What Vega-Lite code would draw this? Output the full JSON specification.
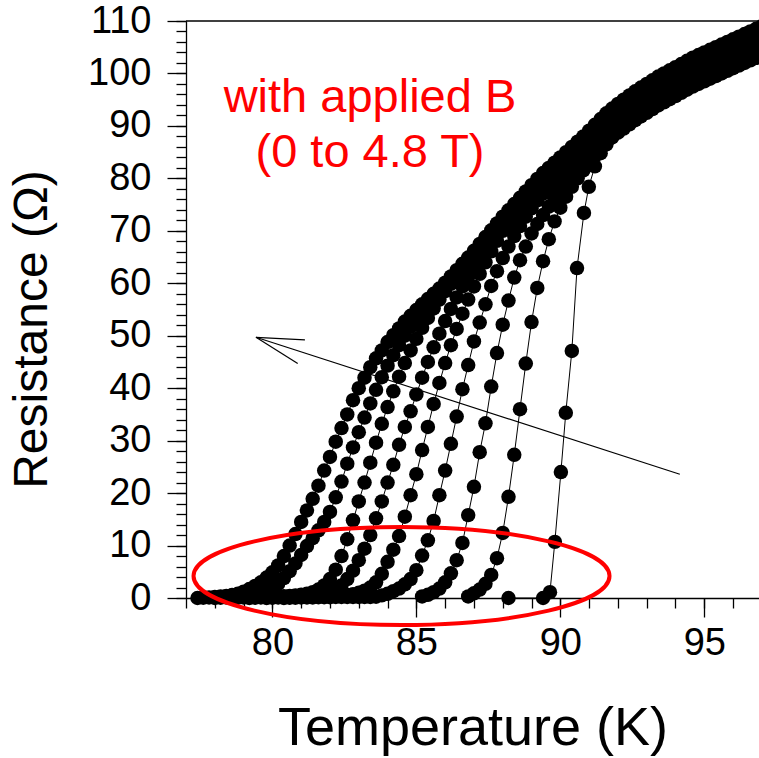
{
"$schema": "https://vega.github.io/schema/vega-lite/v6.json",
"width": 573, "height": 577,
"autosize": {"type": "none"},
"padding": {"left": 186, "top": 21, "right": 0, "bottom": 160},
"background": "white",
"config": {"view": {"stroke": null}, "font": "Liberation Sans"},
"datasets": {
"arrow": [{"x1":94.15,"y1":23.6,"x2":79.43,"y2":49.7},{"x1":79.43,"y1":49.7,"x2":81.13,"y2":49.2},{"x1":79.43,"y1":49.7,"x2":80.88,"y2":44.7}],
"curves": [
{"B":"4.8 T","T":77.4,"R":0},{"B":"4.8 T","T":77.6,"R":0.05},{"B":"4.8 T","T":77.8,"R":0.1},{"B":"4.8 T","T":78,"R":0.2},{"B":"4.8 T","T":78.2,"R":0.3},{"B":"4.8 T","T":78.4,"R":0.4},{"B":"4.8 T","T":78.6,"R":0.55},{"B":"4.8 T","T":78.8,"R":0.8},{"B":"4.8 T","T":79,"R":1.2},{"B":"4.8 T","T":79.2,"R":1.7},{"B":"4.8 T","T":79.4,"R":2.3},{"B":"4.8 T","T":79.6,"R":3},{"B":"4.8 T","T":79.8,"R":3.9},{"B":"4.8 T","T":80,"R":4.9},{"B":"4.8 T","T":80.2,"R":6.2},{"B":"4.8 T","T":80.4,"R":8},{"B":"4.8 T","T":80.6,"R":10},{"B":"4.8 T","T":80.8,"R":12.2},{"B":"4.8 T","T":81,"R":14.5},{"B":"4.8 T","T":81.2,"R":16.7},{"B":"4.8 T","T":81.4,"R":18.9},{"B":"4.8 T","T":81.6,"R":21.4},{"B":"4.8 T","T":81.8,"R":24.3},{"B":"4.8 T","T":82,"R":26.9},{"B":"4.8 T","T":82.2,"R":29.8},{"B":"4.8 T","T":82.4,"R":32.4},{"B":"4.8 T","T":82.6,"R":35},{"B":"4.8 T","T":82.8,"R":37.7},{"B":"4.8 T","T":83,"R":40},{"B":"4.8 T","T":83.2,"R":42},{"B":"4.8 T","T":83.4,"R":44},{"B":"4.8 T","T":83.6,"R":45.7},{"B":"4.8 T","T":83.8,"R":47.2},{"B":"4.8 T","T":84,"R":48.8},{"B":"4.8 T","T":84.2,"R":50.1},{"B":"4.8 T","T":84.4,"R":51.4},{"B":"4.8 T","T":84.6,"R":52.7},{"B":"4.8 T","T":84.8,"R":53.8},{"B":"4.8 T","T":85,"R":54.9},{"B":"4.8 T","T":85.2,"R":56},{"B":"4.8 T","T":85.4,"R":57},{"B":"4.8 T","T":85.6,"R":58},{"B":"4.8 T","T":85.8,"R":59},{"B":"4.8 T","T":86,"R":60.1},{"B":"4.8 T","T":86.2,"R":61.3},{"B":"4.8 T","T":86.4,"R":62.5},{"B":"4.8 T","T":86.6,"R":63.7},{"B":"4.8 T","T":86.8,"R":64.9},{"B":"4.8 T","T":87,"R":66.2},{"B":"4.8 T","T":87.2,"R":67.5},{"B":"4.8 T","T":87.4,"R":68.8},{"B":"4.8 T","T":87.6,"R":70.1},{"B":"4.8 T","T":87.8,"R":71.4},{"B":"4.8 T","T":88,"R":72.7},{"B":"4.8 T","T":88.2,"R":73.9},{"B":"4.8 T","T":88.4,"R":75.1},{"B":"4.8 T","T":88.6,"R":76.3},{"B":"4.8 T","T":88.8,"R":77.5},{"B":"4.8 T","T":89,"R":78.7},{"B":"4.8 T","T":89.2,"R":79.9},{"B":"4.8 T","T":89.4,"R":81},{"B":"4.8 T","T":89.6,"R":82},{"B":"4.8 T","T":89.8,"R":83},{"B":"4.8 T","T":90,"R":84},{"B":"4.8 T","T":90.2,"R":85},{"B":"4.8 T","T":90.4,"R":86},{"B":"4.8 T","T":90.6,"R":87},{"B":"4.8 T","T":90.8,"R":88},{"B":"4.8 T","T":91,"R":89.1},{"B":"4.8 T","T":91.2,"R":90.2},{"B":"4.8 T","T":91.4,"R":91.3},{"B":"4.8 T","T":91.6,"R":92.4},{"B":"4.8 T","T":91.8,"R":93.3},{"B":"4.8 T","T":92,"R":94.2},{"B":"4.8 T","T":92.2,"R":95},{"B":"4.8 T","T":92.4,"R":95.8},{"B":"4.8 T","T":92.6,"R":96.6},{"B":"4.8 T","T":92.8,"R":97.3},{"B":"4.8 T","T":93,"R":98},{"B":"4.8 T","T":93.2,"R":98.7},{"B":"4.8 T","T":93.4,"R":99.4},{"B":"4.8 T","T":93.6,"R":100},{"B":"4.8 T","T":93.8,"R":100.6},{"B":"4.8 T","T":94,"R":101.2},{"B":"4.8 T","T":94.2,"R":101.8},{"B":"4.8 T","T":94.4,"R":102.4},{"B":"4.8 T","T":94.6,"R":103},{"B":"4.8 T","T":94.8,"R":103.5},{"B":"4.8 T","T":95,"R":104},{"B":"4.8 T","T":95.2,"R":104.5},{"B":"4.8 T","T":95.4,"R":105},{"B":"4.8 T","T":95.6,"R":105.5},{"B":"4.8 T","T":95.8,"R":106},{"B":"4.8 T","T":96,"R":106.5},{"B":"4.8 T","T":96.2,"R":107},{"B":"4.8 T","T":96.4,"R":107.5},{"B":"4.8 T","T":96.6,"R":108},{"B":"4.8 T","T":96.8,"R":108.5},{"B":"4.8 T","T":97,"R":109},
{"B":"4.0 T","T":78,"R":0},{"B":"4.0 T","T":78.2,"R":0.05},{"B":"4.0 T","T":78.4,"R":0.1},{"B":"4.0 T","T":78.6,"R":0.15},{"B":"4.0 T","T":78.8,"R":0.2},{"B":"4.0 T","T":79,"R":0.25},{"B":"4.0 T","T":79.2,"R":0.3},{"B":"4.0 T","T":79.4,"R":0.4},{"B":"4.0 T","T":79.6,"R":0.6},{"B":"4.0 T","T":79.8,"R":1.1},{"B":"4.0 T","T":80,"R":1.8},{"B":"4.0 T","T":80.2,"R":2.7},{"B":"4.0 T","T":80.4,"R":3.8},{"B":"4.0 T","T":80.6,"R":5.1},{"B":"4.0 T","T":80.8,"R":6.6},{"B":"4.0 T","T":81,"R":8.2},{"B":"4.0 T","T":81.2,"R":9.9},{"B":"4.0 T","T":81.4,"R":11.4},{"B":"4.0 T","T":81.6,"R":12.9},{"B":"4.0 T","T":81.8,"R":14.5},{"B":"4.0 T","T":82,"R":16.4},{"B":"4.0 T","T":82.2,"R":19.2},{"B":"4.0 T","T":82.4,"R":22.2},{"B":"4.0 T","T":82.6,"R":25.6},{"B":"4.0 T","T":82.8,"R":28.7},{"B":"4.0 T","T":83,"R":31.6},{"B":"4.0 T","T":83.2,"R":34.4},{"B":"4.0 T","T":83.4,"R":37.1},{"B":"4.0 T","T":83.6,"R":39.7},{"B":"4.0 T","T":83.8,"R":42.1},{"B":"4.0 T","T":84,"R":44.3},{"B":"4.0 T","T":84.2,"R":46.3},{"B":"4.0 T","T":84.4,"R":48.2},{"B":"4.0 T","T":84.6,"R":50},{"B":"4.0 T","T":84.8,"R":51.7},{"B":"4.0 T","T":85,"R":53.3},{"B":"4.0 T","T":85.2,"R":54.8},{"B":"4.0 T","T":85.4,"R":56.2},{"B":"4.0 T","T":85.6,"R":57.3},{"B":"4.0 T","T":85.8,"R":58.3},{"B":"4.0 T","T":86,"R":59.4},{"B":"4.0 T","T":86.2,"R":60.6},{"B":"4.0 T","T":86.4,"R":61.8},{"B":"4.0 T","T":86.6,"R":63},{"B":"4.0 T","T":86.8,"R":64.2},{"B":"4.0 T","T":87,"R":65.5},{"B":"4.0 T","T":87.2,"R":66.8},{"B":"4.0 T","T":87.4,"R":68.1},{"B":"4.0 T","T":87.6,"R":69.4},{"B":"4.0 T","T":87.8,"R":70.7},{"B":"4.0 T","T":88,"R":72},{"B":"4.0 T","T":88.2,"R":73.2},{"B":"4.0 T","T":88.4,"R":74.4},{"B":"4.0 T","T":88.6,"R":75.6},{"B":"4.0 T","T":88.8,"R":76.8},{"B":"4.0 T","T":89,"R":78},{"B":"4.0 T","T":89.2,"R":79.2},{"B":"4.0 T","T":89.4,"R":80.3},{"B":"4.0 T","T":89.6,"R":81.3},{"B":"4.0 T","T":89.8,"R":82.3},{"B":"4.0 T","T":90,"R":83.3},{"B":"4.0 T","T":90.2,"R":84.3},{"B":"4.0 T","T":90.4,"R":85.3},{"B":"4.0 T","T":90.6,"R":86.3},{"B":"4.0 T","T":90.8,"R":87.3},{"B":"4.0 T","T":91,"R":88.4},{"B":"4.0 T","T":91.2,"R":89.5},{"B":"4.0 T","T":91.4,"R":90.6},{"B":"4.0 T","T":91.6,"R":91.7},{"B":"4.0 T","T":91.8,"R":92.6},{"B":"4.0 T","T":92,"R":93.5},{"B":"4.0 T","T":92.2,"R":94.3},{"B":"4.0 T","T":92.4,"R":95.1},{"B":"4.0 T","T":92.6,"R":95.9},{"B":"4.0 T","T":92.8,"R":96.6},{"B":"4.0 T","T":93,"R":97.3},{"B":"4.0 T","T":93.2,"R":98},{"B":"4.0 T","T":93.4,"R":98.7},{"B":"4.0 T","T":93.6,"R":99.3},{"B":"4.0 T","T":93.8,"R":99.9},{"B":"4.0 T","T":94,"R":100.5},{"B":"4.0 T","T":94.2,"R":101.1},{"B":"4.0 T","T":94.4,"R":101.7},{"B":"4.0 T","T":94.6,"R":102.3},{"B":"4.0 T","T":94.8,"R":102.8},{"B":"4.0 T","T":95,"R":103.3},{"B":"4.0 T","T":95.2,"R":103.8},{"B":"4.0 T","T":95.4,"R":104.3},{"B":"4.0 T","T":95.6,"R":104.8},{"B":"4.0 T","T":95.8,"R":105.3},{"B":"4.0 T","T":96,"R":105.8},{"B":"4.0 T","T":96.2,"R":106.3},{"B":"4.0 T","T":96.4,"R":106.8},{"B":"4.0 T","T":96.6,"R":107.3},{"B":"4.0 T","T":96.8,"R":107.8},{"B":"4.0 T","T":97,"R":108.3},
{"B":"3.2 T","T":78.6,"R":0},{"B":"3.2 T","T":78.8,"R":0.05},{"B":"3.2 T","T":79,"R":0.1},{"B":"3.2 T","T":79.2,"R":0.1},{"B":"3.2 T","T":79.4,"R":0.15},{"B":"3.2 T","T":79.6,"R":0.2},{"B":"3.2 T","T":79.8,"R":0.2},{"B":"3.2 T","T":80,"R":0.25},{"B":"3.2 T","T":80.2,"R":0.3},{"B":"3.2 T","T":80.4,"R":0.35},{"B":"3.2 T","T":80.6,"R":0.4},{"B":"3.2 T","T":80.8,"R":0.5},{"B":"3.2 T","T":81,"R":0.6},{"B":"3.2 T","T":81.2,"R":0.8},{"B":"3.2 T","T":81.4,"R":1.1},{"B":"3.2 T","T":81.6,"R":1.6},{"B":"3.2 T","T":81.8,"R":2.4},{"B":"3.2 T","T":82,"R":3.6},{"B":"3.2 T","T":82.2,"R":5.4},{"B":"3.2 T","T":82.4,"R":8},{"B":"3.2 T","T":82.6,"R":11.2},{"B":"3.2 T","T":82.8,"R":14.8},{"B":"3.2 T","T":83,"R":18.4},{"B":"3.2 T","T":83.2,"R":22},{"B":"3.2 T","T":83.4,"R":25.8},{"B":"3.2 T","T":83.6,"R":29.6},{"B":"3.2 T","T":83.8,"R":33.2},{"B":"3.2 T","T":84,"R":36.4},{"B":"3.2 T","T":84.2,"R":39.4},{"B":"3.2 T","T":84.4,"R":42.2},{"B":"3.2 T","T":84.6,"R":44.8},{"B":"3.2 T","T":84.8,"R":47.2},{"B":"3.2 T","T":85,"R":49.4},{"B":"3.2 T","T":85.2,"R":51.5},{"B":"3.2 T","T":85.4,"R":53.4},{"B":"3.2 T","T":85.6,"R":55.2},{"B":"3.2 T","T":85.8,"R":56.9},{"B":"3.2 T","T":86,"R":58.5},{"B":"3.2 T","T":86.2,"R":59.9},{"B":"3.2 T","T":86.4,"R":61.1},{"B":"3.2 T","T":86.6,"R":62.3},{"B":"3.2 T","T":86.8,"R":63.5},{"B":"3.2 T","T":87,"R":64.8},{"B":"3.2 T","T":87.2,"R":66.1},{"B":"3.2 T","T":87.4,"R":67.4},{"B":"3.2 T","T":87.6,"R":68.7},{"B":"3.2 T","T":87.8,"R":70},{"B":"3.2 T","T":88,"R":71.3},{"B":"3.2 T","T":88.2,"R":72.5},{"B":"3.2 T","T":88.4,"R":73.7},{"B":"3.2 T","T":88.6,"R":74.9},{"B":"3.2 T","T":88.8,"R":76.1},{"B":"3.2 T","T":89,"R":77.3},{"B":"3.2 T","T":89.2,"R":78.5},{"B":"3.2 T","T":89.4,"R":79.6},{"B":"3.2 T","T":89.6,"R":80.6},{"B":"3.2 T","T":89.8,"R":81.6},{"B":"3.2 T","T":90,"R":82.6},{"B":"3.2 T","T":90.2,"R":83.6},{"B":"3.2 T","T":90.4,"R":84.6},{"B":"3.2 T","T":90.6,"R":85.6},{"B":"3.2 T","T":90.8,"R":86.6},{"B":"3.2 T","T":91,"R":87.7},{"B":"3.2 T","T":91.2,"R":88.8},{"B":"3.2 T","T":91.4,"R":89.9},{"B":"3.2 T","T":91.6,"R":91},{"B":"3.2 T","T":91.8,"R":91.9},{"B":"3.2 T","T":92,"R":92.8},{"B":"3.2 T","T":92.2,"R":93.6},{"B":"3.2 T","T":92.4,"R":94.4},{"B":"3.2 T","T":92.6,"R":95.2},{"B":"3.2 T","T":92.8,"R":95.9},{"B":"3.2 T","T":93,"R":96.6},{"B":"3.2 T","T":93.2,"R":97.3},{"B":"3.2 T","T":93.4,"R":98},{"B":"3.2 T","T":93.6,"R":98.6},{"B":"3.2 T","T":93.8,"R":99.2},{"B":"3.2 T","T":94,"R":99.8},{"B":"3.2 T","T":94.2,"R":100.4},{"B":"3.2 T","T":94.4,"R":101},{"B":"3.2 T","T":94.6,"R":101.6},{"B":"3.2 T","T":94.8,"R":102.1},{"B":"3.2 T","T":95,"R":102.6},{"B":"3.2 T","T":95.2,"R":103.1},{"B":"3.2 T","T":95.4,"R":103.6},{"B":"3.2 T","T":95.6,"R":104.1},{"B":"3.2 T","T":95.8,"R":104.6},{"B":"3.2 T","T":96,"R":105.1},{"B":"3.2 T","T":96.2,"R":105.6},{"B":"3.2 T","T":96.4,"R":106.1},{"B":"3.2 T","T":96.6,"R":106.6},{"B":"3.2 T","T":96.8,"R":107.1},{"B":"3.2 T","T":97,"R":107.6},
{"B":"2.4 T","T":79.2,"R":0},{"B":"2.4 T","T":79.4,"R":0.05},{"B":"2.4 T","T":79.6,"R":0.1},{"B":"2.4 T","T":79.8,"R":0.1},{"B":"2.4 T","T":80,"R":0.15},{"B":"2.4 T","T":80.2,"R":0.2},{"B":"2.4 T","T":80.4,"R":0.2},{"B":"2.4 T","T":80.6,"R":0.25},{"B":"2.4 T","T":80.8,"R":0.3},{"B":"2.4 T","T":81,"R":0.35},{"B":"2.4 T","T":81.2,"R":0.4},{"B":"2.4 T","T":81.4,"R":0.5},{"B":"2.4 T","T":81.6,"R":0.6},{"B":"2.4 T","T":81.8,"R":0.8},{"B":"2.4 T","T":82,"R":1.1},{"B":"2.4 T","T":82.2,"R":1.6},{"B":"2.4 T","T":82.4,"R":2.4},{"B":"2.4 T","T":82.6,"R":3.6},{"B":"2.4 T","T":82.8,"R":5.2},{"B":"2.4 T","T":83,"R":7.2},{"B":"2.4 T","T":83.2,"R":9.4},{"B":"2.4 T","T":83.4,"R":12},{"B":"2.4 T","T":83.6,"R":15.2},{"B":"2.4 T","T":83.8,"R":18.4},{"B":"2.4 T","T":84,"R":22},{"B":"2.4 T","T":84.2,"R":25.4},{"B":"2.4 T","T":84.4,"R":29.2},{"B":"2.4 T","T":84.6,"R":32.6},{"B":"2.4 T","T":84.8,"R":35.6},{"B":"2.4 T","T":85,"R":38.8},{"B":"2.4 T","T":85.2,"R":42},{"B":"2.4 T","T":85.4,"R":45},{"B":"2.4 T","T":85.6,"R":47.8},{"B":"2.4 T","T":85.8,"R":50.4},{"B":"2.4 T","T":86,"R":52.8},{"B":"2.4 T","T":86.2,"R":55.1},{"B":"2.4 T","T":86.4,"R":57.3},{"B":"2.4 T","T":86.6,"R":59.4},{"B":"2.4 T","T":86.8,"R":61.4},{"B":"2.4 T","T":87,"R":63.4},{"B":"2.4 T","T":87.2,"R":65.4},{"B":"2.4 T","T":87.4,"R":66.7},{"B":"2.4 T","T":87.6,"R":68},{"B":"2.4 T","T":87.8,"R":69.3},{"B":"2.4 T","T":88,"R":70.6},{"B":"2.4 T","T":88.2,"R":71.8},{"B":"2.4 T","T":88.4,"R":73},{"B":"2.4 T","T":88.6,"R":74.2},{"B":"2.4 T","T":88.8,"R":75.4},{"B":"2.4 T","T":89,"R":76.6},{"B":"2.4 T","T":89.2,"R":77.8},{"B":"2.4 T","T":89.4,"R":78.9},{"B":"2.4 T","T":89.6,"R":79.9},{"B":"2.4 T","T":89.8,"R":80.9},{"B":"2.4 T","T":90,"R":81.9},{"B":"2.4 T","T":90.2,"R":82.9},{"B":"2.4 T","T":90.4,"R":83.9},{"B":"2.4 T","T":90.6,"R":84.9},{"B":"2.4 T","T":90.8,"R":85.9},{"B":"2.4 T","T":91,"R":87},{"B":"2.4 T","T":91.2,"R":88.1},{"B":"2.4 T","T":91.4,"R":89.2},{"B":"2.4 T","T":91.6,"R":90.3},{"B":"2.4 T","T":91.8,"R":91.2},{"B":"2.4 T","T":92,"R":92.1},{"B":"2.4 T","T":92.2,"R":92.9},{"B":"2.4 T","T":92.4,"R":93.7},{"B":"2.4 T","T":92.6,"R":94.5},{"B":"2.4 T","T":92.8,"R":95.2},{"B":"2.4 T","T":93,"R":95.9},{"B":"2.4 T","T":93.2,"R":96.6},{"B":"2.4 T","T":93.4,"R":97.3},{"B":"2.4 T","T":93.6,"R":97.9},{"B":"2.4 T","T":93.8,"R":98.5},{"B":"2.4 T","T":94,"R":99.1},{"B":"2.4 T","T":94.2,"R":99.7},{"B":"2.4 T","T":94.4,"R":100.3},{"B":"2.4 T","T":94.6,"R":100.9},{"B":"2.4 T","T":94.8,"R":101.4},{"B":"2.4 T","T":95,"R":101.9},{"B":"2.4 T","T":95.2,"R":102.4},{"B":"2.4 T","T":95.4,"R":102.9},{"B":"2.4 T","T":95.6,"R":103.4},{"B":"2.4 T","T":95.8,"R":103.9},{"B":"2.4 T","T":96,"R":104.4},{"B":"2.4 T","T":96.2,"R":104.9},{"B":"2.4 T","T":96.4,"R":105.4},{"B":"2.4 T","T":96.6,"R":105.9},{"B":"2.4 T","T":96.8,"R":106.4},{"B":"2.4 T","T":97,"R":106.9},
{"B":"1.6 T","T":79.8,"R":0},{"B":"1.6 T","T":80,"R":0.05},{"B":"1.6 T","T":80.2,"R":0.1},{"B":"1.6 T","T":80.4,"R":0.1},{"B":"1.6 T","T":80.6,"R":0.15},{"B":"1.6 T","T":80.8,"R":0.2},{"B":"1.6 T","T":81,"R":0.2},{"B":"1.6 T","T":81.2,"R":0.25},{"B":"1.6 T","T":81.4,"R":0.3},{"B":"1.6 T","T":81.6,"R":0.35},{"B":"1.6 T","T":81.8,"R":0.4},{"B":"1.6 T","T":82,"R":0.45},{"B":"1.6 T","T":82.2,"R":0.5},{"B":"1.6 T","T":82.4,"R":0.5},{"B":"1.6 T","T":82.6,"R":0.55},{"B":"1.6 T","T":82.8,"R":0.7},{"B":"1.6 T","T":83,"R":1},{"B":"1.6 T","T":83.2,"R":1.4},{"B":"1.6 T","T":83.4,"R":2},{"B":"1.6 T","T":83.6,"R":3},{"B":"1.6 T","T":83.8,"R":4.6},{"B":"1.6 T","T":84,"R":6.9},{"B":"1.6 T","T":84.2,"R":9.2},{"B":"1.6 T","T":84.4,"R":11.8},{"B":"1.6 T","T":84.6,"R":15.5},{"B":"1.6 T","T":84.8,"R":19.6},{"B":"1.6 T","T":85,"R":23.6},{"B":"1.6 T","T":85.2,"R":28.2},{"B":"1.6 T","T":85.4,"R":32.6},{"B":"1.6 T","T":85.6,"R":37},{"B":"1.6 T","T":85.8,"R":41},{"B":"1.6 T","T":86,"R":44.8},{"B":"1.6 T","T":86.2,"R":48.2},{"B":"1.6 T","T":86.4,"R":51.3},{"B":"1.6 T","T":86.6,"R":54.2},{"B":"1.6 T","T":86.8,"R":56.9},{"B":"1.6 T","T":87,"R":59.4},{"B":"1.6 T","T":87.2,"R":61.8},{"B":"1.6 T","T":87.4,"R":64},{"B":"1.6 T","T":87.6,"R":66.1},{"B":"1.6 T","T":87.8,"R":68.1},{"B":"1.6 T","T":88,"R":70},{"B":"1.6 T","T":88.2,"R":71.2},{"B":"1.6 T","T":88.4,"R":72.4},{"B":"1.6 T","T":88.6,"R":73.6},{"B":"1.6 T","T":88.8,"R":74.8},{"B":"1.6 T","T":89,"R":76},{"B":"1.6 T","T":89.2,"R":77.2},{"B":"1.6 T","T":89.4,"R":78.3},{"B":"1.6 T","T":89.6,"R":79.3},{"B":"1.6 T","T":89.8,"R":80.3},{"B":"1.6 T","T":90,"R":81.3},{"B":"1.6 T","T":90.2,"R":82.3},{"B":"1.6 T","T":90.4,"R":83.3},{"B":"1.6 T","T":90.6,"R":84.3},{"B":"1.6 T","T":90.8,"R":85.3},{"B":"1.6 T","T":91,"R":86.4},{"B":"1.6 T","T":91.2,"R":87.5},{"B":"1.6 T","T":91.4,"R":88.6},{"B":"1.6 T","T":91.6,"R":89.7},{"B":"1.6 T","T":91.8,"R":90.6},{"B":"1.6 T","T":92,"R":91.5},{"B":"1.6 T","T":92.2,"R":92.3},{"B":"1.6 T","T":92.4,"R":93.1},{"B":"1.6 T","T":92.6,"R":93.9},{"B":"1.6 T","T":92.8,"R":94.6},{"B":"1.6 T","T":93,"R":95.3},{"B":"1.6 T","T":93.2,"R":96},{"B":"1.6 T","T":93.4,"R":96.7},{"B":"1.6 T","T":93.6,"R":97.3},{"B":"1.6 T","T":93.8,"R":97.9},{"B":"1.6 T","T":94,"R":98.5},{"B":"1.6 T","T":94.2,"R":99.1},{"B":"1.6 T","T":94.4,"R":99.7},{"B":"1.6 T","T":94.6,"R":100.3},{"B":"1.6 T","T":94.8,"R":100.8},{"B":"1.6 T","T":95,"R":101.3},{"B":"1.6 T","T":95.2,"R":101.8},{"B":"1.6 T","T":95.4,"R":102.3},{"B":"1.6 T","T":95.6,"R":102.8},{"B":"1.6 T","T":95.8,"R":103.3},{"B":"1.6 T","T":96,"R":103.8},{"B":"1.6 T","T":96.2,"R":104.3},{"B":"1.6 T","T":96.4,"R":104.8},{"B":"1.6 T","T":96.6,"R":105.3},{"B":"1.6 T","T":96.8,"R":105.8},{"B":"1.6 T","T":97,"R":106.3},
{"B":"1.0 T","T":80.4,"R":0},{"B":"1.0 T","T":80.6,"R":0.05},{"B":"1.0 T","T":80.8,"R":0.05},{"B":"1.0 T","T":81,"R":0.1},{"B":"1.0 T","T":81.2,"R":0.1},{"B":"1.0 T","T":81.4,"R":0.1},{"B":"1.0 T","T":81.6,"R":0.15},{"B":"1.0 T","T":81.8,"R":0.15},{"B":"1.0 T","T":82,"R":0.15},{"B":"1.0 T","T":82.2,"R":0.2},{"B":"1.0 T","T":82.4,"R":0.2},{"B":"1.0 T","T":82.6,"R":0.2},{"B":"1.0 T","T":82.8,"R":0.2},{"B":"1.0 T","T":83,"R":0.2},{"B":"1.0 T","T":83.2,"R":0.2},{"B":"1.0 T","T":83.4,"R":0.2},{"B":"1.0 T","T":83.6,"R":0.25},{"B":"1.0 T","T":83.8,"R":0.5},{"B":"1.0 T","T":84,"R":0.8},{"B":"1.0 T","T":84.2,"R":1.3},{"B":"1.0 T","T":84.4,"R":1.8},{"B":"1.0 T","T":84.6,"R":2.6},{"B":"1.0 T","T":84.8,"R":3.6},{"B":"1.0 T","T":85,"R":5.3},{"B":"1.0 T","T":85.2,"R":8.1},{"B":"1.0 T","T":85.4,"R":11},{"B":"1.0 T","T":85.6,"R":14.7},{"B":"1.0 T","T":85.8,"R":19.6},{"B":"1.0 T","T":86,"R":24.3},{"B":"1.0 T","T":86.2,"R":29.4},{"B":"1.0 T","T":86.4,"R":34.6},{"B":"1.0 T","T":86.6,"R":39.8},{"B":"1.0 T","T":86.8,"R":44.4},{"B":"1.0 T","T":87,"R":48.9},{"B":"1.0 T","T":87.2,"R":52.5},{"B":"1.0 T","T":87.4,"R":56},{"B":"1.0 T","T":87.6,"R":59.5},{"B":"1.0 T","T":87.8,"R":62.3},{"B":"1.0 T","T":88,"R":64.8},{"B":"1.0 T","T":88.2,"R":67},{"B":"1.0 T","T":88.4,"R":69},{"B":"1.0 T","T":88.6,"R":70.9},{"B":"1.0 T","T":88.8,"R":72.7},{"B":"1.0 T","T":89,"R":74.3},{"B":"1.0 T","T":89.2,"R":75.8},{"B":"1.0 T","T":89.4,"R":77.1},{"B":"1.0 T","T":89.6,"R":78.3},{"B":"1.0 T","T":89.8,"R":79.4},{"B":"1.0 T","T":90,"R":80.5},{"B":"1.0 T","T":90.2,"R":81.5},{"B":"1.0 T","T":90.4,"R":82.5},{"B":"1.0 T","T":90.6,"R":83.5},{"B":"1.0 T","T":90.8,"R":84.5},{"B":"1.0 T","T":91,"R":85.6},{"B":"1.0 T","T":91.2,"R":86.7},{"B":"1.0 T","T":91.4,"R":87.8},{"B":"1.0 T","T":91.6,"R":88.9},{"B":"1.0 T","T":91.8,"R":89.8},{"B":"1.0 T","T":92,"R":90.7},{"B":"1.0 T","T":92.2,"R":91.5},{"B":"1.0 T","T":92.4,"R":92.3},{"B":"1.0 T","T":92.6,"R":93.1},{"B":"1.0 T","T":92.8,"R":93.8},{"B":"1.0 T","T":93,"R":94.5},{"B":"1.0 T","T":93.2,"R":95.2},{"B":"1.0 T","T":93.4,"R":95.9},{"B":"1.0 T","T":93.6,"R":96.5},{"B":"1.0 T","T":93.8,"R":97.1},{"B":"1.0 T","T":94,"R":97.7},{"B":"1.0 T","T":94.2,"R":98.3},{"B":"1.0 T","T":94.4,"R":98.9},{"B":"1.0 T","T":94.6,"R":99.5},{"B":"1.0 T","T":94.8,"R":100},{"B":"1.0 T","T":95,"R":100.5},{"B":"1.0 T","T":95.2,"R":101},{"B":"1.0 T","T":95.4,"R":101.5},{"B":"1.0 T","T":95.6,"R":102},{"B":"1.0 T","T":95.8,"R":102.5},{"B":"1.0 T","T":96,"R":103},{"B":"1.0 T","T":96.2,"R":103.5},{"B":"1.0 T","T":96.4,"R":104},{"B":"1.0 T","T":96.6,"R":104.5},{"B":"1.0 T","T":96.8,"R":105},{"B":"1.0 T","T":97,"R":105.5},
{"B":"0.5 T","T":85.2,"R":0.3},{"B":"0.5 T","T":85.4,"R":0.6},{"B":"0.5 T","T":85.6,"R":1.1},{"B":"0.5 T","T":85.8,"R":1.8},{"B":"0.5 T","T":86,"R":3},{"B":"0.5 T","T":86.2,"R":4.7},{"B":"0.5 T","T":86.4,"R":7.2},{"B":"0.5 T","T":86.6,"R":10.5},{"B":"0.5 T","T":86.8,"R":15.8},{"B":"0.5 T","T":87,"R":21.2},{"B":"0.5 T","T":87.2,"R":27.8},{"B":"0.5 T","T":87.4,"R":33.3},{"B":"0.5 T","T":87.6,"R":40.3},{"B":"0.5 T","T":87.8,"R":46.7},{"B":"0.5 T","T":88,"R":52.1},{"B":"0.5 T","T":88.2,"R":56.7},{"B":"0.5 T","T":88.4,"R":61.1},{"B":"0.5 T","T":88.6,"R":64.4},{"B":"0.5 T","T":88.8,"R":67},{"B":"0.5 T","T":89,"R":69.5},{"B":"0.5 T","T":89.2,"R":71.3},{"B":"0.5 T","T":89.4,"R":73},{"B":"0.5 T","T":89.6,"R":74.6},{"B":"0.5 T","T":89.8,"R":76},{"B":"0.5 T","T":90,"R":77.4},{"B":"0.5 T","T":90.2,"R":78.7},{"B":"0.5 T","T":90.4,"R":80},{"B":"0.5 T","T":90.6,"R":81.3},{"B":"0.5 T","T":90.8,"R":82.6},{"B":"0.5 T","T":91,"R":83.9},{"B":"0.5 T","T":91.2,"R":85.2},{"B":"0.5 T","T":91.4,"R":86.4},{"B":"0.5 T","T":91.6,"R":87.6},{"B":"0.5 T","T":91.8,"R":88.7},{"B":"0.5 T","T":92,"R":89.7},{"B":"0.5 T","T":92.2,"R":90.7},{"B":"0.5 T","T":92.4,"R":91.6},{"B":"0.5 T","T":92.6,"R":92.5},{"B":"0.5 T","T":92.8,"R":93.2},{"B":"0.5 T","T":93,"R":93.9},{"B":"0.5 T","T":93.2,"R":94.6},{"B":"0.5 T","T":93.4,"R":95.3},{"B":"0.5 T","T":93.6,"R":95.9},{"B":"0.5 T","T":93.8,"R":96.5},{"B":"0.5 T","T":94,"R":97.1},{"B":"0.5 T","T":94.2,"R":97.7},{"B":"0.5 T","T":94.4,"R":98.3},{"B":"0.5 T","T":94.6,"R":98.9},{"B":"0.5 T","T":94.8,"R":99.4},{"B":"0.5 T","T":95,"R":99.9},{"B":"0.5 T","T":95.2,"R":100.4},{"B":"0.5 T","T":95.4,"R":100.9},{"B":"0.5 T","T":95.6,"R":101.4},{"B":"0.5 T","T":95.8,"R":101.9},{"B":"0.5 T","T":96,"R":102.4},{"B":"0.5 T","T":96.2,"R":102.9},{"B":"0.5 T","T":96.4,"R":103.4},{"B":"0.5 T","T":96.6,"R":103.9},{"B":"0.5 T","T":96.8,"R":104.4},{"B":"0.5 T","T":97,"R":104.9},
{"B":"0.2 T","T":86.8,"R":0.3},{"B":"0.2 T","T":87,"R":0.9},{"B":"0.2 T","T":87.2,"R":1.6},{"B":"0.2 T","T":87.4,"R":2.7},{"B":"0.2 T","T":87.6,"R":4.4},{"B":"0.2 T","T":87.8,"R":7.6},{"B":"0.2 T","T":88,"R":12.4},{"B":"0.2 T","T":88.2,"R":19.3},{"B":"0.2 T","T":88.4,"R":27.3},{"B":"0.2 T","T":88.6,"R":36},{"B":"0.2 T","T":88.8,"R":44.7},{"B":"0.2 T","T":89,"R":52.6},{"B":"0.2 T","T":89.2,"R":59.1},{"B":"0.2 T","T":89.4,"R":64.2},{"B":"0.2 T","T":89.6,"R":68.4},{"B":"0.2 T","T":89.8,"R":71.8},{"B":"0.2 T","T":90,"R":74.4},{"B":"0.2 T","T":90.2,"R":76.5},{"B":"0.2 T","T":90.4,"R":78.4},{"B":"0.2 T","T":90.6,"R":80},{"B":"0.2 T","T":90.8,"R":81.5},{"B":"0.2 T","T":91,"R":82.9},{"B":"0.2 T","T":91.2,"R":84.3},{"B":"0.2 T","T":91.4,"R":85.6},{"B":"0.2 T","T":91.6,"R":86.9},{"B":"0.2 T","T":91.8,"R":88},{"B":"0.2 T","T":92,"R":89},{"B":"0.2 T","T":92.2,"R":90},{"B":"0.2 T","T":92.4,"R":91},{"B":"0.2 T","T":92.6,"R":91.8},{"B":"0.2 T","T":92.8,"R":92.5},{"B":"0.2 T","T":93,"R":93.2},{"B":"0.2 T","T":93.2,"R":93.9},{"B":"0.2 T","T":93.4,"R":94.6},{"B":"0.2 T","T":93.6,"R":95.2},{"B":"0.2 T","T":93.8,"R":95.8},{"B":"0.2 T","T":94,"R":96.4},{"B":"0.2 T","T":94.2,"R":97},{"B":"0.2 T","T":94.4,"R":97.6},{"B":"0.2 T","T":94.6,"R":98.2},{"B":"0.2 T","T":94.8,"R":98.7},{"B":"0.2 T","T":95,"R":99.2},{"B":"0.2 T","T":95.2,"R":99.7},{"B":"0.2 T","T":95.4,"R":100.2},{"B":"0.2 T","T":95.6,"R":100.7},{"B":"0.2 T","T":95.8,"R":101.2},{"B":"0.2 T","T":96,"R":101.7},{"B":"0.2 T","T":96.2,"R":102.2},{"B":"0.2 T","T":96.4,"R":102.7},{"B":"0.2 T","T":96.6,"R":103.2},{"B":"0.2 T","T":96.8,"R":103.7},{"B":"0.2 T","T":97,"R":104.2},
{"B":"0 T","T":88.2,"R":0},{"B":"0 T","T":89.4,"R":0},{"B":"0 T","T":89.64,"R":1.1},{"B":"0 T","T":89.81,"R":10.7},{"B":"0 T","T":90.02,"R":24},{"B":"0 T","T":90.19,"R":35.3},{"B":"0 T","T":90.4,"R":47.1},{"B":"0 T","T":90.58,"R":62.9},{"B":"0 T","T":90.82,"R":73.4},{"B":"0 T","T":90.99,"R":78.4},{"B":"0 T","T":91.2,"R":82.3},{"B":"0 T","T":91.4,"R":84.8},{"B":"0 T","T":91.6,"R":86.5},{"B":"0 T","T":91.8,"R":87.8},{"B":"0 T","T":92,"R":88.7},{"B":"0 T","T":92.2,"R":89.5},{"B":"0 T","T":92.4,"R":90.3},{"B":"0 T","T":92.6,"R":91.1},{"B":"0 T","T":92.8,"R":91.8},{"B":"0 T","T":93,"R":92.5},{"B":"0 T","T":93.2,"R":93.2},{"B":"0 T","T":93.4,"R":93.9},{"B":"0 T","T":93.6,"R":94.5},{"B":"0 T","T":93.8,"R":95.1},{"B":"0 T","T":94,"R":95.7},{"B":"0 T","T":94.2,"R":96.3},{"B":"0 T","T":94.4,"R":96.9},{"B":"0 T","T":94.6,"R":97.5},{"B":"0 T","T":94.8,"R":98},{"B":"0 T","T":95,"R":98.5},{"B":"0 T","T":95.2,"R":99},{"B":"0 T","T":95.4,"R":99.5},{"B":"0 T","T":95.6,"R":100},{"B":"0 T","T":95.8,"R":100.5},{"B":"0 T","T":96,"R":101},{"B":"0 T","T":96.2,"R":101.5},{"B":"0 T","T":96.4,"R":102},{"B":"0 T","T":96.6,"R":102.5},{"B":"0 T","T":96.8,"R":103},{"B":"0 T","T":97,"R":103.5}
]},
"resolve": {"axis": {"x": "independent", "y": "independent"}},
"layer": [
{
"data": {"name": "curves"},
"mark": {"type": "line", "color": "black", "strokeWidth": 1, "point": {"filled": true, "size": 210, "color": "black", "opacity": 1}},
"encoding": {
"x": {"field": "T", "type": "quantitative", "scale": {"domain": [77, 96.9], "nice": false, "zero": false},
"axis": {"orient": "bottom", "values": [80, 85, 90, 95], "tickSize": 19, "tickWidth": 1.3, "tickColor": "black", "domainColor": "black", "domainWidth": 1.3, "grid": false, "labelFontSize": 38, "labelFont": "Liberation Sans", "labelColor": "black", "labelPadding": 7, "labelFlush": false, "labelOverlap": false, "title": "Temperature (K)", "titleFontSize": 54, "titleFont": "Liberation Sans", "titleFontWeight": "normal", "titleColor": "black", "titlePadding": 39}},
"y": {"field": "R", "type": "quantitative", "scale": {"domain": [0, 110], "nice": false, "zero": false},
"axis": {"orient": "left", "values": [0, 10, 20, 30, 40, 50, 60, 70, 80, 90, 100, 110], "tickSize": 19, "tickWidth": 1.3, "tickColor": "black", "domainColor": "black", "domainWidth": 1.3, "grid": false, "labelFontSize": 38, "labelFont": "Liberation Sans", "labelColor": "black", "labelPadding": 16, "labelFlush": false, "labelOverlap": false, "title": "Resistance (Ω)", "titleFontSize": 48, "titleFont": "Liberation Sans", "titleFontWeight": "normal", "titleColor": "black", "titlePadding": 31, "titleY": 308}},
"detail": {"field": "B", "type": "nominal"}
}
},
{
"data": {"name": "arrow"},
"mark": {"type": "rule", "color": "black", "strokeWidth": 1.2},
"encoding": {
"x": {"field": "x1", "type": "quantitative", "axis": {"orient": "bottom", "values": [77, 78, 79, 80, 81, 82, 83, 84, 85, 86, 87, 88, 89, 90, 91, 92, 93, 94, 95, 96], "tickSize": 10, "tickWidth": 1.3, "tickColor": "black", "labels": false, "domain": false, "grid": false, "title": null}},
"y": {"field": "y1", "type": "quantitative", "axis": {"orient": "left", "values": [0, 2, 4, 6, 8, 10, 12, 14, 16, 18, 20, 22, 24, 26, 28, 30, 32, 34, 36, 38, 40, 42, 44, 46, 48, 50, 52, 54, 56, 58, 60, 62, 64, 66, 68, 70, 72, 74, 76, 78, 80, 82, 84, 86, 88, 90, 92, 94, 96, 98, 100, 102, 104, 106, 108, 110], "tickSize": 10, "tickWidth": 1.3, "tickColor": "black", "labels": false, "domain": false, "grid": false, "title": null}},
"x2": {"field": "x2"},
"y2": {"field": "y2"}
}
},
{
"data": {"values": [{}]},
"mark": {"type": "point", "shape": "M 1 0 C 1 0.1301 0.5523 0.2356 0 0.2356 C -0.5523 0.2356 -1 0.1301 -1 0 C -1 -0.1301 -0.5523 -0.2356 0 -0.2356 C 0.5523 -0.2356 1 -0.1301 1 0 Z", "size": 173056, "filled": false, "stroke": "#ff0000", "strokeWidth": 4, "opacity": 1},
"encoding": {
"x": {"datum": 84.485, "type": "quantitative", "axis": null},
"y": {"datum": 4.19, "type": "quantitative", "axis": null}
}
},
{
"data": {"values": [{}]},
"mark": {"type": "text", "text": ["with applied B", "(0 to 4.8 T)"], "font": "Liberation Sans", "fontSize": 47, "color": "#ff0000", "align": "center", "baseline": "alphabetic", "lineHeight": 55},
"encoding": {
"x": {"datum": 83.39, "type": "quantitative", "axis": null},
"y": {"datum": 92.66, "type": "quantitative", "axis": null}
}
},
{
"data": {"values": [{}]},
"mark": {"type": "rule", "color": "black", "strokeWidth": 1.3},
"encoding": {
"y": {"datum": 110, "type": "quantitative", "axis": null}
}
}
]
}
